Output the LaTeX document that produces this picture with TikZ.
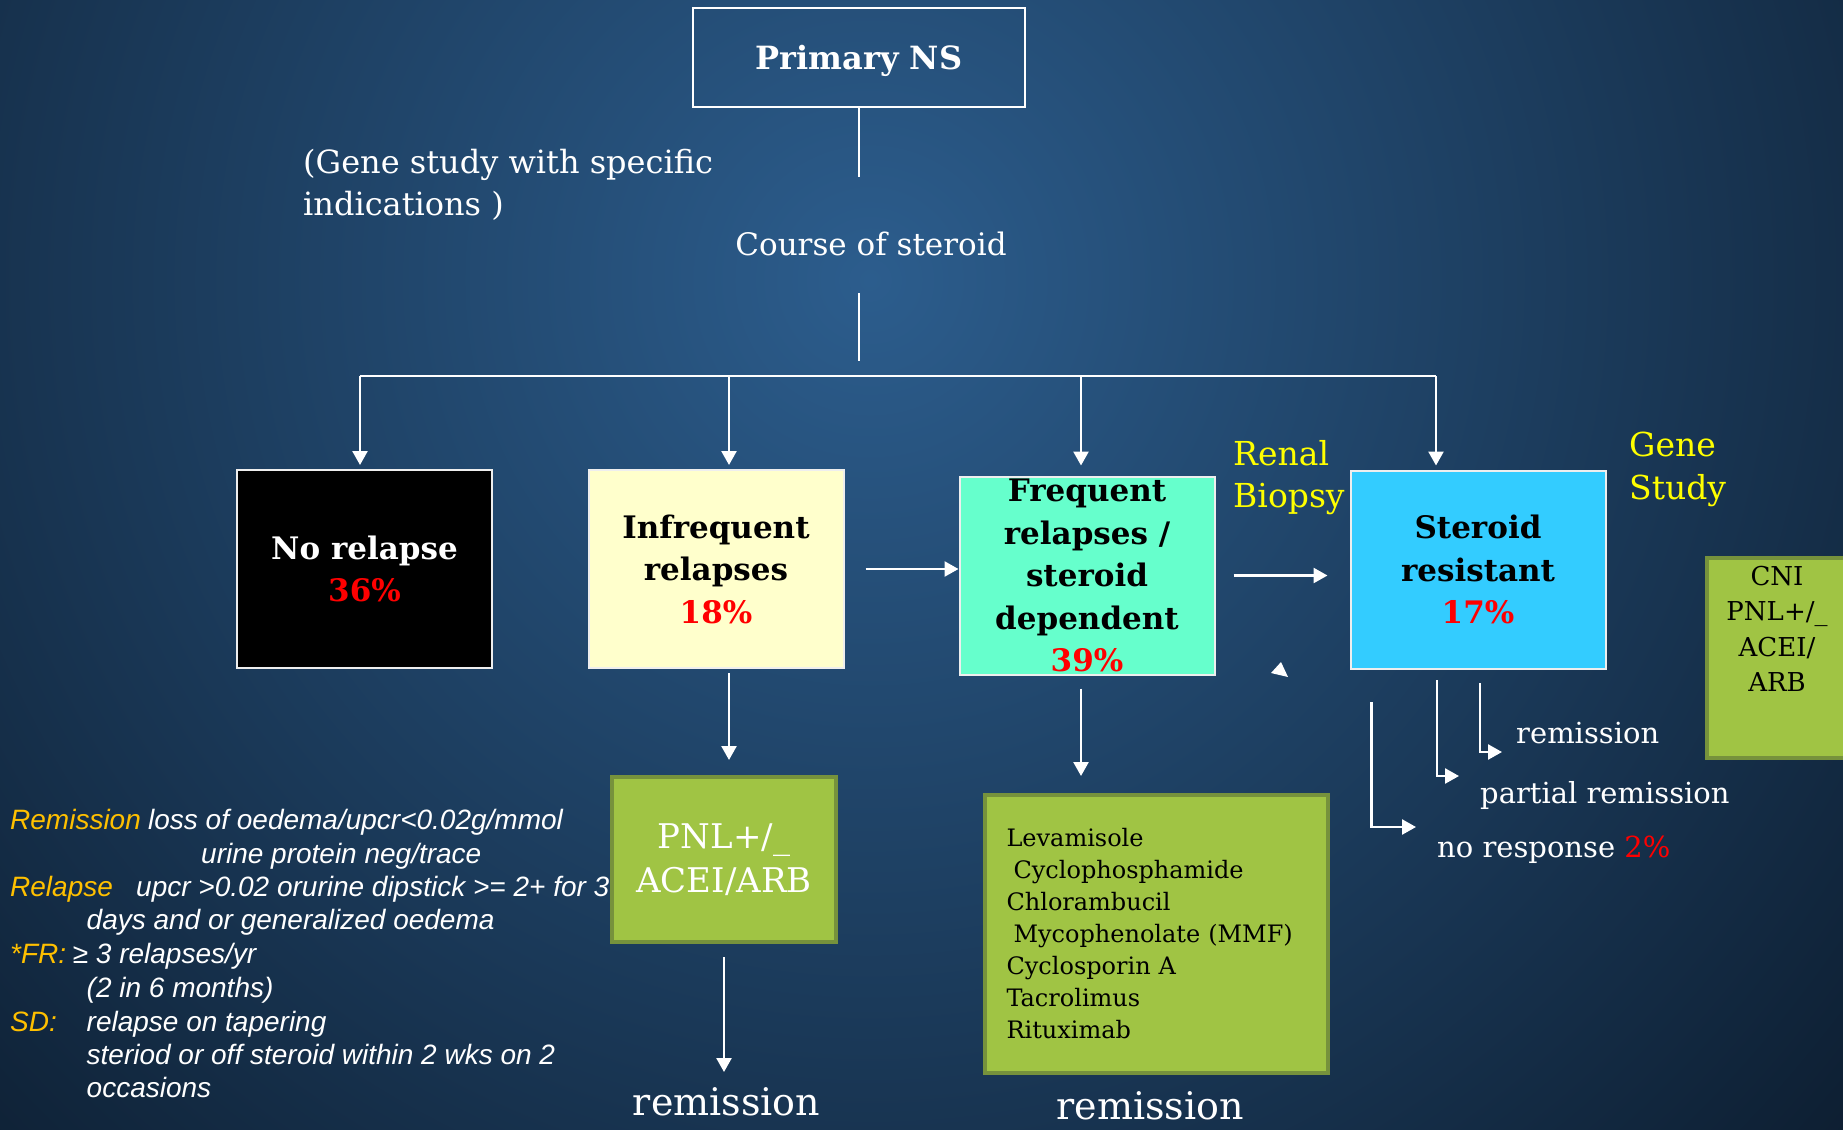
\documentclass[tikz,border=0pt]{standalone}
\usepackage{fontspec}
\setmainfont{DejaVu Serif}
\newfontfamily\arialfont{Liberation Sans}
\usetikzlibrary{arrows.meta}
\definecolor{bgin}{HTML}{2C5D8D}
\definecolor{bgout}{HTML}{0C1C2E}
\definecolor{pred}{HTML}{FF0000}
\definecolor{yel}{HTML}{FFFF00}
\definecolor{org}{HTML}{FFC000}
\definecolor{infcol}{HTML}{FFFFCC}
\definecolor{freqcol}{HTML}{66FFCC}
\definecolor{srcol}{HTML}{33CCFF}
\definecolor{grn}{HTML}{A0C444}
\definecolor{grnd}{HTML}{76923C}
\definecolor{bord}{HTML}{EEEEEE}
\tikzset{
  ln/.style={draw=white, line width=2.5pt},
  arr/.style={draw=white, line width=2.5pt, -{Triangle[width=15pt,length=14pt]}},
  mainbox/.style={draw=bord, line width=2pt, minimum width=255, minimum height=198, align=center, inner sep=0pt, font=\bfseries\fontsize{31}{42.5}\selectfont},
  greenbox/.style={fill=grn, draw=grnd, line width=4pt, inner sep=0pt},
  wtxt/.style={text=white, inner sep=0pt},
  deftxt/.style={inner sep=0pt, anchor=base west, font=\arialfont\itshape\fontsize{28}{34}\selectfont},
}
\begin{document}
\begin{tikzpicture}[x=1pt,y=-1pt]
\useasboundingbox (0,0) rectangle (1843,1129);
\begin{scope}
\clip (0,0) rectangle (1843,1129);
\fill[bgout] (0,0) rectangle (1843,1129);
\shade[inner color=bgin, outer color=bgout] (870,280) circle [radius=1350];
\end{scope}

% top
\node[draw=white, line width=2pt, minimum width=332, minimum height=99, text depth=0pt, text=white, font=\bfseries\fontsize{32}{38}\selectfont] (prim) at (859,57.5) {Primary NS};
\coordinate (c1) at (859,177);
\draw[ln] (prim.south) -- (c1);
\node[wtxt, anchor=north west, align=left, font=\fontsize{32}{42}\selectfont] (gene) at (303,149) {(Gene study with specific\\indications )};
\node[wtxt, anchor=base, font=\fontsize{31}{40}\selectfont] (course) at (871,255) {Course of steroid};
\coordinate (c2) at (859,293);
\coordinate (c3) at (859,361);
\draw[ln] (c2) -- (c3);

% branch
\coordinate (hL) at (360,376);
\coordinate (h2) at (729,376);
\coordinate (h3) at (1081,376);
\coordinate (hR) at (1436,376);
\draw[ln] (hL) -- (hR);

% main boxes
\node[mainbox, fill=black, text=white] (nr) at (364.5,569) {No relapse\\\textcolor{pred}{36\%}};
\node[mainbox, fill=infcol, text=black] (inf) at (716,569) {Infrequent\\relapses\\\textcolor{pred}{18\%}};
\node[mainbox, fill=freqcol, text=black] (freq) at (1087,575.5) {Frequent\\relapses /\\steroid\\dependent\\\textcolor{pred}{39\%}};
\node[mainbox, fill=srcol, text=black] (sr) at (1478,569.5) {Steroid\\resistant\\\textcolor{pred}{17\%}};

\draw[arr, shorten >=4pt] (hL) -- (hL |- nr.north);
\draw[arr, shorten >=4pt] (h2) -- (h2 |- inf.north);
\draw[arr, shorten >=10pt] (h3) -- (h3 |- freq.north);
\draw[arr, shorten >=4pt] (hR) -- (hR |- sr.north);

\draw[arr, shorten <=21pt] (inf.east) -- (inf.east -| freq.west);
\draw[arr, shorten <=18pt, shorten >=22pt] (freq.east) -- (freq.east -| sr.west);
\fill[white] (1281,662) -- (1271,673) -- (1288,677) -- cycle;

\node[anchor=north west, align=left, inner sep=0pt, text=yel, font=\fontsize{33}{42}\selectfont] (renal) at (1233,440) {Renal\\Biopsy};
\node[anchor=north west, align=left, inner sep=0pt, text=yel, font=\fontsize{33}{43}\selectfont] (genest) at (1629,432) {Gene\\Study};

% CNI box
\node[greenbox, minimum width=140, minimum height=200] (cni) at (1777,658) {};
\node[anchor=north, align=center, inner sep=0pt, text=black, font=\fontsize{26}{35.3}\selectfont] (cnit) at ([yshift=-10pt]cni.north) {CNI\\PNL+/\_\\ACEI/\\ARB};

% SR outcomes
\node[wtxt, anchor=base west, font=\fontsize{29}{34}\selectfont] (remR) at (1516,743) {remission};
\node[wtxt, anchor=base west, font=\fontsize{29}{34}\selectfont] (partial) at (1480,803) {partial remission};
\node[wtxt, anchor=base west, font=\fontsize{29}{34}\selectfont] (noresp) at (1437,857) {no response \textcolor{pred}{2\%}};
\coordinate (a1) at (1437,680);
\coordinate (a2) at (1459,776);
\coordinate (b1) at (1480,683);
\coordinate (b2) at (1502,752);
\coordinate (d1) at (1371.5,702);
\coordinate (d2) at (1416,827);
\draw[arr] (a1) |- (a2);
\draw[arr] (b1) |- (b2);
\draw[arr] (d1) |- (d2);

% PNL box
\node[greenbox, minimum width=224, minimum height=165, align=center, text=white, font=\fontsize{34}{44}\selectfont] (pnl) at (724,859.5) {PNL+/\_\\ACEI/ARB};
\draw[arr, shorten <=4pt, shorten >=15pt] (inf.south -| h2) -- (pnl.north -| h2);
\node[wtxt, anchor=base, font=\fontsize{38}{44}\selectfont] (remL) at (726.5,1115) {remission};
\draw[arr, shorten <=13pt, shorten >=43pt] (pnl.south) -- (pnl.south |- remL.base);

% drugs box
\node[greenbox, minimum height=278, text width=300, inner xsep=21.5pt, align=left, text=black, font=\fontsize{24}{32}\selectfont] (drugs) at (1156.5,934) {Levamisole\\\hspace*{7pt}Cyclophosphamide\\Chlorambucil\\\hspace*{7pt}Mycophenolate (MMF)\\Cyclosporin A\\Tacrolimus\\Rituximab};
\draw[arr, shorten <=13pt, shorten >=17pt] (freq.south -| h3) -- (drugs.north -| h3);
\node[wtxt, anchor=base, font=\fontsize{38}{44}\selectfont] (remM) at (1150,1119) {remission};

% definitions
\node[deftxt, text=org] (d1a) at (10,829) {Remission};
\node[deftxt, text=white] (d1b) at (148,829) {loss of oedema/upcr<0.02g/mmol};
\node[deftxt, text=white] (d2b) at (201,863) {urine protein neg/trace};
\node[deftxt, text=org] (d3a) at (10,896) {Relapse};
\node[deftxt, text=white] (d3b) at (136,896) {upcr >0.02 orurine dipstick >= 2+ for 3};
\node[deftxt, text=white] (d4b) at (86.5,929) {days and or generalized oedema};
\node[deftxt, text=org] (d5a) at (10,963) {*FR:};
\node[deftxt, text=white] (d5b) at (72.6,963) {≥ 3 relapses/yr};
\node[deftxt, text=white] (d6b) at (86.5,997) {(2 in 6 months)};
\node[deftxt, text=org] (d7a) at (10,1031) {SD:};
\node[deftxt, text=white] (d7b) at (86.5,1031) {relapse on tapering};
\node[deftxt, text=white] (d8b) at (86.5,1064) {steriod or off steroid within 2 wks on 2};
\node[deftxt, text=white] (d9b) at (86.5,1097) {occasions};
\end{tikzpicture}
\end{document}
